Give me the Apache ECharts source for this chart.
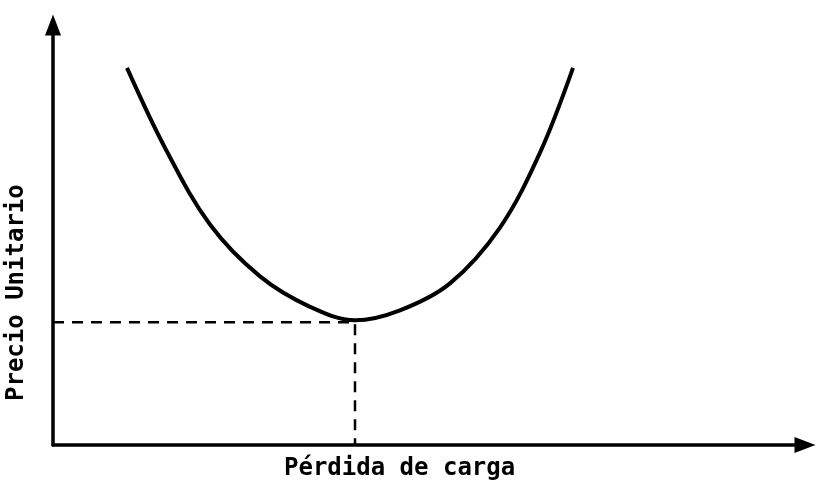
<!DOCTYPE html>
<html>
<head>
<meta charset="utf-8">
<script src="https://cdn.jsdelivr.net/npm/echarts@6/dist/echarts.min.js"></script>
<style>
    html, body{
        margin: 0;
        padding: 0;
        background: #fff;
    }
    #chart{
        width: 816px;
        height: 489px;
    }
</style>
</head>
<body>
<div id="chart"></div>
<script>
    // curva de precio unitario (unidades relativas 0-100)
    var perdida = [9.84, 14.89, 20.88, 27.53, 34.18, 40.16, 46.14, 52.79, 59.44, 64.76, 69.15];
    var precio  = [89.79, 70.78, 52.49, 40.14, 32.90, 29.69, 32.07, 38.48, 51.78, 69.60, 89.79];
    // punto optimo
    var optX = 40.16;
    var optY = 29.2;

    var xName = 'Pérdida de carga';
    var yName = 'Precio Unitario';

    var curva = perdida.map(function (x, i) { return [x, precio[i]]; });
    var guia = [[0, optY], [optX, optY], [optX, 0]];

    var myChart = echarts.init(document.getElementById('chart'));
    var axisBase = {
        type: 'value',
        min: 0,
        max: 100,
        axisLine: {
            show: true,
            symbol: ['none', 'triangle'],
            symbolSize: [16, 21],
            lineStyle: {color: '#000', width: 3.5}
        },
        axisTick: {show: false},
        axisLabel: {show: false},
        splitLine: {show: false}
    };
    var option = {
        backgroundColor: '#fff',
        animation: false,
        grid: {
            left: 53,
            right: 11,
            top: 25,
            bottom: 44
        },
        xAxis: Object.assign({}, axisBase),
        yAxis: Object.assign({}, axisBase),
        graphic: [
            {
                type: 'text',
                left: 284,
                top: 457,
                style: {
                    text: xName,
                    font: 'bold 24px "DejaVu Sans Mono"',
                    fill: '#000'
                }
            },
            {
                type: 'text',
                x: 5,
                y: 401,
                rotation: Math.PI / 2,
                style: {
                    text: yName,
                    font: 'bold 24px "DejaVu Sans Mono"',
                    fill: '#000'
                }
            }
        ],
        series: [
            {
                type: 'line',
                data: guia,
                symbol: 'none',
                lineStyle: {color: '#000', width: 2.5, type: [11, 8]},
                z: 1
            },
            {
                type: 'line',
                data: curva,
                smooth: 0.35,
                symbol: 'none',
                lineStyle: {color: '#000', width: 4},
                z: 2
            }
        ]
    };
    myChart.setOption(option);
</script>
</body>
</html>
